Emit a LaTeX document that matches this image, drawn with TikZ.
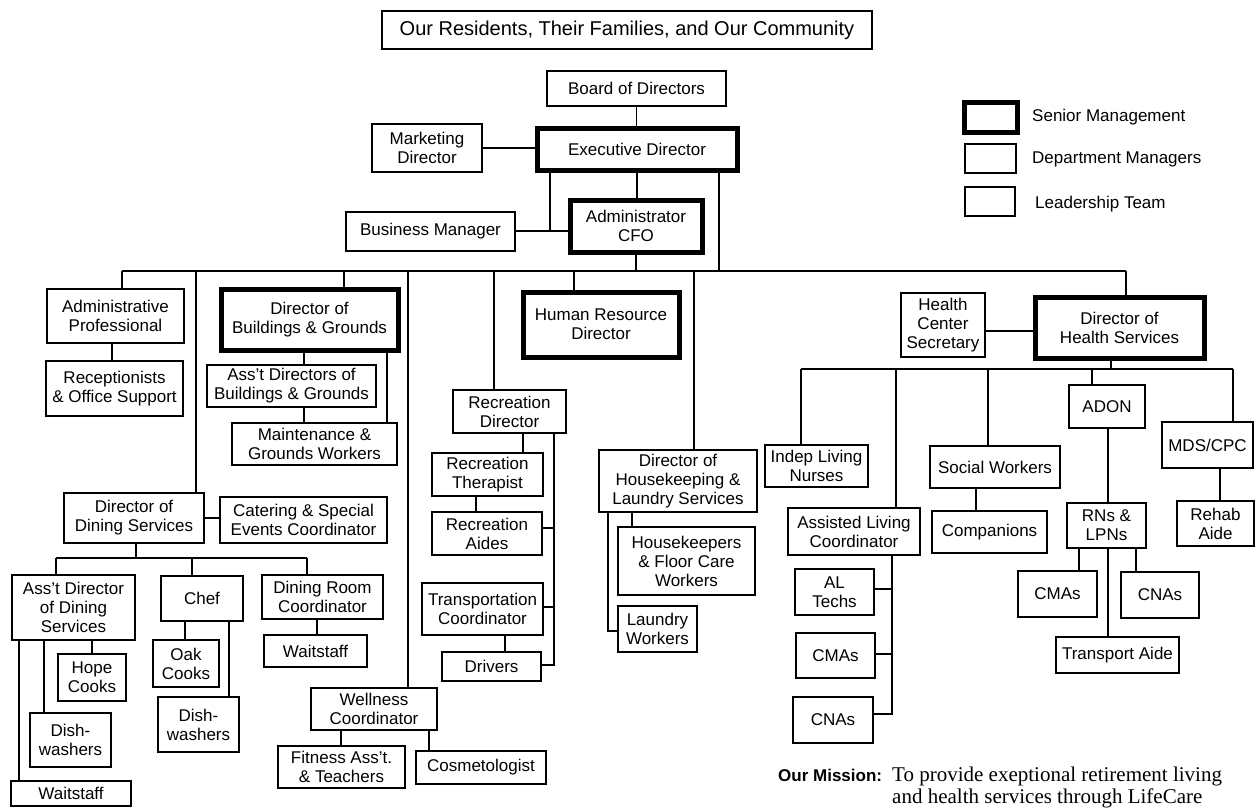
\documentclass[tikz,border=0pt]{standalone}
\usepackage{fontspec}
\setmainfont{Liberation Sans}
\newfontfamily\mserif{Liberation Serif}
\tikzset{
  bx/.style={draw, inner sep=0pt, align=center, font=\fontsize{17}{19}\selectfont},
  lead/.style={bx, line width=1.6pt},
  dept/.style={bx, line width=2.6pt},
  senior/.style={bx, line width=5pt},
  conn/.style={line width=1.4pt},
  lgtext/.style={anchor=west, inner sep=0pt, font=\fontsize{17}{19}\selectfont},
}
\newcommand\obox[7]{\node[#1, minimum width={(#5)-(#3)}, minimum height={(#6)-(#4)}] (#2) at ({((#3)+(#5))/2},{((#4)+(#6))/2}) {#7};}
\begin{document}
\begin{tikzpicture}[x=1pt,y=-1pt]
\useasboundingbox (0,0) rectangle (1256,809);
% ---------- top ----------
\obox{lead}{title}{382}{11}{872}{49}{\fontsize{20}{22}\selectfont Our Residents, Their Families, and Our Community}
\obox{lead}{board}{547}{71}{726}{106}{Board of Directors}
\obox{senior}{exec}{537}{128}{737}{170}{Executive Director}
\obox{dept}{mkt}{372}{124}{482}{172}{Marketing\\Director}
\obox{senior}{adm}{570}{200}{702}{252}{Administrator\\CFO}
\obox{dept}{bm}{346}{212}{515}{251}{Business Manager}
% ---------- legend ----------
\obox{senior}{lgS}{964}{102}{1017}{132}{}
\obox{dept}{lgD}{965}{144}{1016}{173}{}
\obox{lead}{lgL}{965}{187}{1015}{216}{}
\node[lgtext] (lgSt) at (1032,117) {Senior Management};
\node[lgtext] (lgDt) at (1032,159) {Department Managers};
\node[lgtext] (lgLt) at (1035,204) {Leadership Team};
% ---------- left ----------
\obox{dept}{ap}{47}{289}{184}{343}{Administrative\\Professional}
\obox{lead}{rec}{46}{361}{183}{416}{Receptionists\\\& Office Support}
\obox{senior}{dbg}{221}{289}{398}{350}{Director of\\Buildings \& Grounds}
\obox{lead}{adbg}{207}{365}{376}{407}{Ass't Directors of\\Buildings \& Grounds}
\obox{lead}{mgw}{232}{423}{397}{465}{Maintenance \&\\Grounds Workers}
\obox{dept}{dds}{64}{493}{204}{543}{Director of\\Dining Services}
\obox{lead}{cat}{220}{497}{387}{543}{Catering \& Special\\Events Coordinator}
\obox{lead}{adds}{12}{575}{135}{640}{Ass't Director\\of Dining\\Services}
\obox{lead}{chef}{161}{576}{243}{621}{Chef}
\obox{lead}{drc}{262}{575}{383}{619}{Dining Room\\Coordinator}
\obox{lead}{wsR}{264}{635}{367}{667}{Waitstaff}
\obox{lead}{hope}{58}{654}{126}{701}{Hope\\Cooks}
\obox{lead}{dwL}{30}{713}{111}{767}{Dish-\\washers}
\obox{lead}{wsL}{11}{781}{131}{806}{Waitstaff}
\obox{lead}{oak}{153}{640}{219}{687}{Oak\\Cooks}
\obox{lead}{dwC}{158}{697}{239}{752}{Dish-\\washers}
\obox{lead}{well}{311}{688}{437}{730}{Wellness\\Coordinator}
\obox{lead}{fit}{278}{746}{405}{788}{Fitness Ass't.\\\& Teachers}
\obox{lead}{cos}{416}{751}{546}{784}{Cosmetologist}
% ---------- middle ----------
\obox{senior}{hr}{523}{292}{679}{357}{Human Resource\\Director}
\obox{dept}{rd}{453}{390}{566}{433}{Recreation\\Director}
\obox{lead}{rt}{432}{453}{543}{496}{Recreation\\Therapist}
\obox{lead}{ra}{432}{512}{542}{555}{Recreation\\Aides}
\obox{lead}{tc}{422}{583}{543}{635}{Transportation\\Coordinator}
\obox{lead}{drv}{442}{652}{541}{681}{Drivers}
\obox{dept}{dh}{599}{450}{757}{512}{Director of\\Housekeeping \&\\Laundry Services}
\obox{lead}{hk}{618}{527}{755}{595}{Housekeepers\\\& Floor Care\\Workers}
\obox{lead}{lw}{618}{606}{697}{652}{Laundry\\Workers}
% ---------- right ----------
\obox{senior}{dhs}{1035}{297}{1204}{358}{Director of\\Health Services}
\obox{lead}{hcs}{901}{293}{985}{357}{Health\\Center\\Secretary}
\obox{lead}{iln}{765}{445}{868}{487}{Indep Living\\Nurses}
\obox{lead}{alc}{788}{508}{920}{555}{Assisted Living\\Coordinator}
\obox{lead}{sw}{930}{446}{1060}{488}{Social Workers}
\obox{lead}{comp}{932}{511}{1047}{553}{Companions}
\obox{dept}{adon}{1069}{385}{1145}{428}{ADON}
\obox{lead}{rn}{1067}{503}{1146}{548}{RNs \&\\LPNs}
\obox{lead}{mds}{1162}{422}{1253}{468}{MDS/CPC}
\obox{lead}{rehab}{1177}{501}{1254}{546}{Rehab\\Aide}
\obox{lead}{cmaR}{1018}{571}{1097}{617}{CMAs}
\obox{lead}{cnaR}{1121}{572}{1199}{618}{CNAs}
\obox{lead}{ta}{1056}{637}{1179}{673}{Transport Aide}
\obox{lead}{alt}{795}{569}{874}{615}{AL\\Techs}
\obox{lead}{cmaL}{796}{633}{875}{678}{CMAs}
\obox{lead}{cnaL}{793}{697}{873}{743}{CNAs}
% ---------- mission ----------
\node[anchor=base west, inner sep=0pt, font=\bfseries\fontsize{17}{19}\selectfont] (mis) at (778,781) {Our Mission:};
\node[anchor=base west, inner sep=0pt, font=\mserif\fontsize{21}{26}\selectfont] (mis1) at (892,781) {To provide exeptional retirement living};
\node[anchor=base west, inner sep=0pt, font=\mserif\fontsize{21}{26}\selectfont] (mis2) at (892,803) {and health services through LifeCare};
% ---------- connectors ----------
\coordinate (busL) at (122,271);
\coordinate (busR) at (1126,271);
\coordinate (jbm) at (550,231);
\begin{scope}[conn]
\draw (board.south) -- (board.south |- exec.north);
\draw (mkt.east) -- (mkt.east -| exec.west);
\draw (exec.south) -- (exec.south |- adm.north);
\draw (exec.south -| jbm) -- (jbm);
\draw (bm.east |- jbm) -- (adm.west |- jbm);
\draw (exec.south -| 719,0) -- (busL -| 719,0);
\draw (adm.south) -- (adm.south |- busL);
\draw (busL) -- (busR);
\draw (busL) -- (ap.north -| busL);
\draw (busL -| 196,0) -- (dds.north -| 196,0);
\draw (busL -| 344,0) -- (dbg.north -| 344,0);
\draw (busL -| 408,0) -- (well.north -| 408,0);
\draw (busL -| 494,0) -- (rd.north -| 494,0);
\draw (busL -| 574,0) -- (hr.north -| 574,0);
\draw (busL -| 694,0) -- (dh.north -| 694,0);
\draw (busR) -- (dhs.north -| busR);
% admin / buildings
\draw (ap.south -| 112,0) -- (rec.north -| 112,0);
\draw (dbg.south -| 304,0) -- (adbg.north -| 304,0);
\draw (adbg.south -| 304,0) -- (mgw.north -| 304,0);
\draw (dbg.south -| 387,0) -- (mgw.north -| 387,0);
% dining
\draw (dds.east |- 0,518) -- (cat.west |- 0,518);
\coordinate (dbus) at (136,558);
\draw (dds.south -| dbus) -- (dbus);
\draw (dbus -| 56,0) -- (dbus -| 307,0);
\draw (dbus -| 56,0) -- (adds.north -| 56,0);
\draw (dbus -| 192,0) -- (chef.north -| 192,0);
\draw (dbus -| 307,0) -- (drc.north -| 307,0);
\draw (adds.south -| 19,0) -- (wsL.north -| 19,0);
\draw (adds.south -| 44,0) -- (dwL.north -| 44,0);
\draw (adds.south -| 92,0) -- (hope.north -| 92,0);
\draw (chef.south -| 185,0) -- (oak.north -| 185,0);
\draw (chef.south -| 229,0) -- (dwC.north -| 229,0);
\draw (drc.south -| 317,0) -- (wsR.north -| 317,0);
\draw (well.south -| 341,0) -- (fit.north -| 341,0);
\draw (well.south -| 429,0) -- (cos.north -| 429,0);
% recreation
\draw (rd.south -| 523,0) -- (rt.north -| 523,0);
\draw (rt.south -| 476,0) -- (ra.north -| 476,0);
\draw (tc.south -| 505,0) -- (drv.north -| 505,0);
\coordinate (rline) at (554,665);
\draw (rd.south -| rline) -- (rline) -- (drv.east |- rline);
\draw (ra.east |- 0,528) -- (rline |- 0,528);
\draw (tc.east |- 0,607) -- (rline |- 0,607);
% housekeeping
\draw (dh.south -| 632,0) -- (hk.north -| 632,0);
\coordinate (lwj) at (608,631);
\draw (dh.south -| lwj) -- (lwj) -- (lw.west |- lwj);
% health
\draw (hcs.east |- 0,331) -- (dhs.west |- 0,331);
\coordinate (hbus) at (1111,369);
\draw (dhs.south -| hbus) -- (hbus);
\draw (hbus -| 801,0) -- (hbus -| 1233,0);
\draw (hbus -| 801,0) -- (iln.north -| 801,0);
\draw (hbus -| 896,0) -- (alc.north -| 896,0);
\draw (hbus -| 988,0) -- (sw.north -| 988,0);
\draw (hbus -| 1092,0) -- (adon.north -| 1092,0);
\draw (hbus -| 1233,0) -- (mds.north -| 1233,0);
\draw (sw.south -| 976,0) -- (comp.north -| 976,0);
\draw (adon.south -| 1108,0) -- (rn.north -| 1108,0);
\draw (mds.south -| 1220,0) -- (rehab.north -| 1220,0);
\draw (rn.south -| 1079,0) -- (cmaR.north -| 1079,0);
\draw (rn.south -| 1108,0) -- (ta.north -| 1108,0);
\draw (rn.south -| 1136,0) -- (cnaR.north -| 1136,0);
\coordinate (alj) at (892,714);
\draw (alc.south -| alj) -- (alj) -- (cnaL.east |- alj);
\draw (alt.east |- 0,589) -- (alj |- 0,589);
\draw (cmaL.east |- 0,654) -- (alj |- 0,654);
\end{scope}
\end{tikzpicture}
\end{document}
